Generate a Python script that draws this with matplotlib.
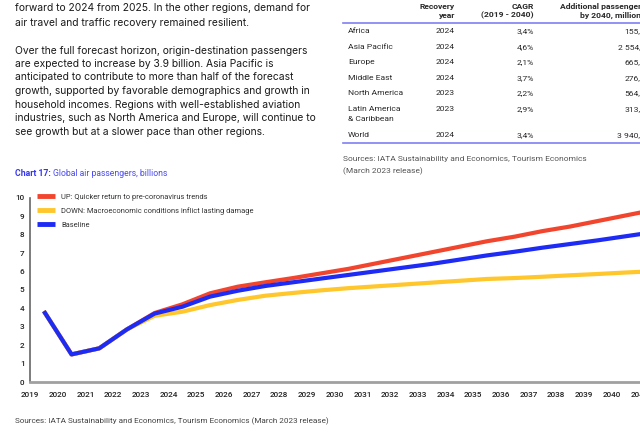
import numpy as np
import matplotlib.pyplot as plt

plt.rcParams['font.family'] = ['Inter', 'DejaVu Sans']

# Daten (Milliarden Passagiere), Punkte jeweils Jahresmitte
years = np.arange(2019, 2042) + 0.5
up = [3.85, 1.5, 1.83, 2.86, 3.75, 4.22, 4.82, 5.18, 5.42, 5.65, 5.9, 6.15,
      6.45, 6.75, 7.05, 7.35, 7.65, 7.9, 8.2, 8.45, 8.75, 9.05, 9.35]
down = [3.85, 1.5, 1.83, 2.86, 3.6, 3.82, 4.18, 4.46, 4.69, 4.84, 4.98, 5.1,
        5.2, 5.3, 5.4, 5.5, 5.6, 5.65, 5.72, 5.8, 5.87, 5.95, 6.02]
baseline = [3.85, 1.5, 1.83, 2.86, 3.72, 4.09, 4.64, 4.96, 5.22, 5.42, 5.62, 5.82,
            6.02, 6.22, 6.42, 6.65, 6.88, 7.08, 7.3, 7.5, 7.7, 7.92, 8.14]
tick_years = list(range(2019, 2043))

labels = ['UP: Quicker return to pre-coronavirus trends',
          'DOWN: Macroeconomic conditions inflict lasting damage',
          'Baseline']
colors = ['#F2452E', '#FFC72C', '#1D2BF5']

regions = ['Africa', 'Asia Pacific', 'Europe', 'Middle East', 'North America',
           'Latin America', 'World']
recovery = ['2024', '2024', '2024', '2024', '2023', '2023', '2024']
cagr = ['3,4%', '4,6%', '2,1%', '3,7%', '2,2%', '2,9%', '3,4%']
additional = ['155,7', '2 554,4', '665,8', '276,0', '564,9', '313,4', '3 940,8']
row_y = [31, 46.7, 62, 77.7, 93.3, 108.7, 135]

para = [
    (8.3, 'forward to 2024 from 2025. In the other regions, demand for'),
    (23.3, 'air travel and traffic recovery remained resilient.'),
    (50.7, 'Over the full forecast horizon, origin-destination passengers'),
    (64.0, 'are expected to increase by 3.9 billion. Asia Pacific is'),
    (77.3, 'anticipated to contribute to more than half of the forecast'),
    (90.7, 'growth, supported by favorable demographics and growth in'),
    (105.0, 'household incomes. Regions with well-established aviation'),
    (118.3, 'industries, such as North America and Europe, will continue to'),
    (131.7, 'see growth but at a slower pace than other regions.'),
]

W, H = 640, 436
fig = plt.figure(figsize=(W / 100, H / 100), dpi=100)
small = ['Roboto', 'DejaVu Sans']


def fx(px):
    return px / W


def fy(py):
    return 1 - py / H


# Fliesstext
for y, s in para:
    fig.text(fx(15), fy(y), s, fontsize=7.4, color='#1a1a1a', va='center', ha='left')

# Tabelle
txt = '#2a2a2a'
fs_tab = 6.1
kw = dict(fontsize=fs_tab, va='center', color=txt, family=small)
fig.text(fx(455), fy(6.7), 'Recovery', fontweight='bold', ha='right', **kw)
fig.text(fx(455), fy(15.7), 'year', fontweight='bold', ha='right', **kw)
fig.text(fx(534), fy(6.7), 'CAGR', fontweight='bold', ha='right', **kw)
fig.text(fx(534), fy(15.7), '(2019 - 2040)', fontweight='bold', ha='right', **kw)
fig.text(fx(645), fy(6.7), 'Additional passengers', fontweight='bold', ha='right', **kw)
fig.text(fx(645), fy(15.7), 'by 2040, millions', fontweight='bold', ha='right', **kw)
fig.add_artist(plt.Line2D([fx(343), 1], [fy(23.3), fy(23.3)], color='#7f7ff2', lw=1.2))
fig.add_artist(plt.Line2D([fx(343), 1], [fy(142.7), fy(142.7)], color='#7f7ff2', lw=1.2))
for i in range(len(regions)):
    y = row_y[i]
    fig.text(fx(348), fy(y), regions[i], ha='left', **kw)
    fig.text(fx(455), fy(y), recovery[i], ha='right', **kw)
    fig.text(fx(534), fy(y), cagr[i], ha='right', **kw)
    fig.text(fx(645), fy(y), additional[i], ha='right', **kw)
fig.text(fx(348), fy(119.3), '& Caribbean', ha='left', **kw)

fig.text(fx(343), fy(159), 'Sources: IATA Sustainability and Economics, Tourism Economics',
         fontsize=6.0, color='#555555', va='center', family=small)
fig.text(fx(343), fy(171), '(March 2023 release)', fontsize=6.0, color='#555555', va='center', family=small)

# Titel des Diagramms
t = fig.text(fx(15), fy(174), 'Chart 17: ', fontsize=6.2, fontweight='bold', color='#3535f0', va='center',
             family=small)
fig.canvas.draw()
bb = t.get_window_extent()
fig.text(bb.x1 / W, fy(174), 'Global air passengers, billions', fontsize=6.2, color='#4a4af2', va='center',
         family=small)

# Diagramm
ax = fig.add_axes([fx(30), fy(382), (2042 - 2019) * 27.7 / W, (382 - 198) / H])
ax.plot(years, up, color=colors[0], lw=3, label=labels[0], solid_capstyle='butt')
ax.plot(years, down, color=colors[1], lw=3, label=labels[1], solid_capstyle='butt')
ax.plot(years, baseline, color=colors[2], lw=3, label=labels[2], solid_capstyle='butt')
ax.set_xlim(2019, 2042)
ax.set_ylim(0, 10)
ax.set_yticks(range(0, 11))
ax.set_xticks(tick_years)
ax.set_xticklabels([str(y) for y in tick_years])
ax.tick_params(length=0, labelsize=5.9, colors='#222222', pad=7)
ax.tick_params(axis='y', pad=4)
for lab in ax.get_xticklabels() + ax.get_yticklabels():
    lab.set_family(small)
    lab.set_fontweight('medium')
for s in ['top', 'right']:
    ax.spines[s].set_visible(False)
ax.spines['left'].set_color('#666666')
ax.spines['left'].set_linewidth(1.2)
ax.spines['bottom'].set_color('#a0a0a0')
ax.spines['bottom'].set_linewidth(2)

leg = ax.legend(loc='upper left', bbox_to_anchor=(fx(37), fy(193.5)), bbox_transform=fig.transFigure,
                frameon=False, prop={'family': small, 'size': 5.4}, handlelength=2.4, handletextpad=0.8,
                labelspacing=0.85, borderpad=0, borderaxespad=0)
for h in leg.get_lines():
    h.set_linewidth(3.5)
for tx in leg.get_texts():
    tx.set_color('#333333')

fig.text(fx(15), fy(421), 'Sources: IATA Sustainability and Economics, Tourism Economics (March 2023 release)',
         fontsize=5.9, color='#444444', va='center', family=small)

fig.savefig('out.png', dpi=100)
